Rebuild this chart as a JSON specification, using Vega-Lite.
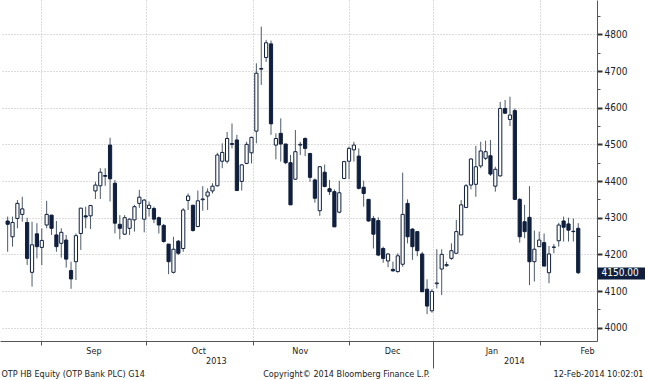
{
  "$schema": "https://vega.github.io/schema/vega-lite/v6.json",
  "width": 597,
  "height": 341,
  "autosize": {"type": "none"},
  "padding": {"left": 0, "top": 0, "right": 48, "bottom": 39},
  "background": "white",
  "config": {
    "view": {"stroke": null},
    "axis": {
      "labelFont": "DejaVu Sans Condensed",
      "titleFont": "DejaVu Sans Condensed",
      "labelColor": "#222222",
      "titleColor": "#222222",
      "titleFontWeight": "normal",
      "titleFontSize": 9,
      "labelFontSize": 9
    }
  },
  "data": {
    "values": [
      {"i":0,"o":4291,"h":4303,"l":4207,"c":4282},
      {"i":1,"o":4248,"h":4303,"l":4221,"c":4287},
      {"i":2,"o":4298,"h":4348,"l":4271,"c":4339},
      {"i":3,"o":4309,"h":4357,"l":4289,"c":4324},
      {"i":4,"o":4287,"h":4300,"l":4171,"c":4189},
      {"i":5,"o":4151,"h":4289,"l":4112,"c":4226},
      {"i":6,"o":4256,"h":4285,"l":4189,"c":4221},
      {"i":7,"o":4219,"h":4271,"l":4171,"c":4238},
      {"i":8,"o":4280,"h":4346,"l":4271,"c":4309},
      {"i":9,"o":4307,"h":4307,"l":4253,"c":4271},
      {"i":10,"o":4253,"h":4291,"l":4207,"c":4221},
      {"i":11,"o":4230,"h":4271,"l":4191,"c":4260},
      {"i":12,"o":4239,"h":4253,"l":4164,"c":4187},
      {"i":13,"o":4156,"h":4180,"l":4106,"c":4133},
      {"i":14,"o":4180,"h":4257,"l":4130,"c":4251},
      {"i":15,"o":4257,"h":4327,"l":4212,"c":4326},
      {"i":16,"o":4305,"h":4330,"l":4271,"c":4302},
      {"i":17,"o":4305,"h":4335,"l":4269,"c":4333},
      {"i":18,"o":4373,"h":4398,"l":4351,"c":4389},
      {"i":19,"o":4387,"h":4435,"l":4351,"c":4424},
      {"i":20,"o":4415,"h":4435,"l":4387,"c":4413},
      {"i":21,"o":4498,"h":4518,"l":4344,"c":4406},
      {"i":22,"o":4394,"h":4403,"l":4257,"c":4285},
      {"i":23,"o":4282,"h":4307,"l":4241,"c":4271},
      {"i":24,"o":4255,"h":4307,"l":4253,"c":4300},
      {"i":25,"o":4271,"h":4298,"l":4253,"c":4296},
      {"i":26,"o":4294,"h":4335,"l":4262,"c":4330},
      {"i":27,"o":4339,"h":4376,"l":4327,"c":4356},
      {"i":28,"o":4296,"h":4351,"l":4260,"c":4348},
      {"i":29,"o":4325,"h":4344,"l":4303,"c":4334},
      {"i":30,"o":4325,"h":4330,"l":4285,"c":4296},
      {"i":31,"o":4300,"h":4303,"l":4257,"c":4280},
      {"i":32,"o":4279,"h":4283,"l":4232,"c":4235},
      {"i":33,"o":4228,"h":4228,"l":4146,"c":4180},
      {"i":34,"o":4151,"h":4248,"l":4148,"c":4214},
      {"i":35,"o":4236,"h":4239,"l":4198,"c":4203},
      {"i":36,"o":4216,"h":4326,"l":4207,"c":4321},
      {"i":37,"o":4347,"h":4366,"l":4321,"c":4359},
      {"i":38,"o":4334,"h":4335,"l":4262,"c":4265},
      {"i":39,"o":4276,"h":4374,"l":4274,"c":4346},
      {"i":40,"o":4349,"h":4386,"l":4319,"c":4351},
      {"i":41,"o":4359,"h":4380,"l":4321,"c":4370},
      {"i":42,"o":4373,"h":4394,"l":4366,"c":4386},
      {"i":43,"o":4387,"h":4477,"l":4385,"c":4471},
      {"i":44,"o":4454,"h":4503,"l":4435,"c":4478},
      {"i":45,"o":4454,"h":4534,"l":4448,"c":4516},
      {"i":46,"o":4502,"h":4557,"l":4489,"c":4500},
      {"i":47,"o":4512,"h":4526,"l":4374,"c":4374},
      {"i":48,"o":4399,"h":4446,"l":4374,"c":4444},
      {"i":49,"o":4448,"h":4507,"l":4446,"c":4500},
      {"i":50,"o":4477,"h":4521,"l":4448,"c":4519},
      {"i":51,"o":4536,"h":4721,"l":4503,"c":4694},
      {"i":52,"o":4705,"h":4821,"l":4662,"c":4707},
      {"i":53,"o":4737,"h":4785,"l":4725,"c":4777},
      {"i":54,"o":4774,"h":4783,"l":4526,"c":4556},
      {"i":55,"o":4498,"h":4530,"l":4459,"c":4516},
      {"i":56,"o":4530,"h":4571,"l":4453,"c":4501},
      {"i":57,"o":4501,"h":4501,"l":4446,"c":4450},
      {"i":58,"o":4450,"h":4471,"l":4335,"c":4335},
      {"i":59,"o":4405,"h":4539,"l":4403,"c":4480},
      {"i":60,"o":4498,"h":4507,"l":4471,"c":4500},
      {"i":61,"o":4516,"h":4519,"l":4468,"c":4489},
      {"i":62,"o":4475,"h":4477,"l":4398,"c":4410},
      {"i":63,"o":4403,"h":4407,"l":4341,"c":4353},
      {"i":64,"o":4319,"h":4441,"l":4305,"c":4439},
      {"i":65,"o":4424,"h":4445,"l":4383,"c":4385},
      {"i":66,"o":4379,"h":4403,"l":4362,"c":4371},
      {"i":67,"o":4371,"h":4377,"l":4275,"c":4275},
      {"i":68,"o":4315,"h":4401,"l":4312,"c":4368},
      {"i":69,"o":4407,"h":4455,"l":4405,"c":4453},
      {"i":70,"o":4454,"h":4494,"l":4405,"c":4489},
      {"i":71,"o":4485,"h":4507,"l":4453,"c":4498},
      {"i":72,"o":4468,"h":4489,"l":4377,"c":4380},
      {"i":73,"o":4383,"h":4401,"l":4330,"c":4366},
      {"i":74,"o":4350,"h":4350,"l":4289,"c":4291},
      {"i":75,"o":4298,"h":4305,"l":4216,"c":4255},
      {"i":76,"o":4292,"h":4301,"l":4195,"c":4198},
      {"i":77,"o":4216,"h":4221,"l":4177,"c":4189},
      {"i":78,"o":4182,"h":4203,"l":4165,"c":4201},
      {"i":79,"o":4159,"h":4180,"l":4153,"c":4155},
      {"i":80,"o":4153,"h":4203,"l":4150,"c":4196},
      {"i":81,"o":4173,"h":4423,"l":4166,"c":4309},
      {"i":82,"o":4339,"h":4350,"l":4230,"c":4248},
      {"i":83,"o":4269,"h":4271,"l":4185,"c":4221},
      {"i":84,"o":4262,"h":4262,"l":4195,"c":4210},
      {"i":85,"o":4201,"h":4207,"l":4098,"c":4098},
      {"i":86,"o":4105,"h":4132,"l":4037,"c":4059},
      {"i":87,"o":4046,"h":4105,"l":4041,"c":4099},
      {"i":88,"o":4120,"h":4214,"l":4107,"c":4122},
      {"i":89,"o":4160,"h":4214,"l":4089,"c":4200},
      {"i":90,"o":4169,"h":4180,"l":4166,"c":4172},
      {"i":91,"o":4189,"h":4230,"l":4185,"c":4210},
      {"i":92,"o":4203,"h":4294,"l":4203,"c":4262},
      {"i":93,"o":4253,"h":4348,"l":4253,"c":4335},
      {"i":94,"o":4328,"h":4392,"l":4326,"c":4387},
      {"i":95,"o":4389,"h":4462,"l":4377,"c":4460},
      {"i":96,"o":4391,"h":4496,"l":4357,"c":4439},
      {"i":97,"o":4441,"h":4507,"l":4435,"c":4482},
      {"i":98,"o":4462,"h":4510,"l":4457,"c":4480},
      {"i":99,"o":4469,"h":4512,"l":4414,"c":4419},
      {"i":100,"o":4386,"h":4439,"l":4371,"c":4432},
      {"i":101,"o":4414,"h":4616,"l":4412,"c":4598},
      {"i":102,"o":4598,"h":4621,"l":4583,"c":4585},
      {"i":103,"o":4568,"h":4630,"l":4550,"c":4580},
      {"i":104,"o":4592,"h":4598,"l":4348,"c":4350},
      {"i":105,"o":4350,"h":4353,"l":4232,"c":4248},
      {"i":106,"o":4289,"h":4335,"l":4244,"c":4262},
      {"i":107,"o":4301,"h":4386,"l":4116,"c":4180},
      {"i":108,"o":4180,"h":4265,"l":4126,"c":4214},
      {"i":109,"o":4221,"h":4262,"l":4221,"c":4239},
      {"i":110,"o":4232,"h":4257,"l":4168,"c":4168},
      {"i":111,"o":4150,"h":4223,"l":4121,"c":4201},
      {"i":112,"o":4219,"h":4228,"l":4203,"c":4220},
      {"i":113,"o":4237,"h":4286,"l":4221,"c":4280},
      {"i":114,"o":4291,"h":4303,"l":4235,"c":4274},
      {"i":115,"o":4283,"h":4300,"l":4235,"c":4266},
      {"i":116,"o":4263,"h":4298,"l":4235,"c":4262},
      {"i":117,"o":4271,"h":4285,"l":4146,"c":4150}
    ]
  },
  "resolve": {"axis": {"x": "independent", "y": "independent"}},
  "layer": [
    {
      "mark": {"type": "rule", "color": "#4b5a6b", "strokeWidth": 1},
      "encoding": {
        "x": {
          "field": "i", "type": "quantitative",
          "scale": {"domain": [-0.544, 119.82], "nice": false, "zero": false},
          "axis": {
            "orient": "bottom",
            "values": [6.9, 28.3, 50.3, 70.0, 87.2, 109.1],
            "grid": true, "gridColor": "#b8b8b8", "gridDash": [1, 2], "gridWidth": 1,
            "ticks": true, "tickSize": 4, "tickColor": "#555555",
            "labels": false,
            "domain": true, "domainColor": "#555555",
            "title": "OTP HB Equity (OTP Bank PLC) G14",
            "titleX": 1, "titleY": 32, "titleAlign": "left", "titleAnchor": "start", "titleBaseline": "middle"
          }
        },
        "y": {
          "field": "l", "type": "quantitative",
          "scale": {"domain": [3963.7, 4893.7], "nice": false, "zero": false},
          "axis": {
            "orient": "right",
            "values": [4000, 4100, 4200, 4300, 4400, 4500, 4600, 4700, 4800],
            "format": "d",
            "grid": true, "gridColor": "#b8b8b8", "gridDash": [1, 2], "gridWidth": 1,
            "ticks": true, "tickSize": 5, "tickWidth": 2, "tickColor": "#333333",
            "labelFontSize": 10, "labelPadding": 2,
            "domain": true, "domainColor": "#555555", "domainWidth": 1,
            "title": null
          }
        },
        "y2": {"field": "h"}
      }
    },
    {
      "transform": [{"filter": "datum.c >= datum.o"}],
      "mark": {"type": "bar", "size": 3.2, "fill": "white", "stroke": "#0f1f3d", "strokeWidth": 1},
      "encoding": {
        "x": {
          "field": "i", "type": "quantitative",
          "scale": {"domain": [-0.544, 119.82], "nice": false, "zero": false},
          "axis": {
            "orient": "bottom",
            "values": [17.6, 39.1, 59.9, 78.85, 99.2, 118.8],
            "labelExpr": "datum.value < 25 ? 'Sep' : datum.value < 50 ? 'Oct' : datum.value < 70 ? 'Nov' : datum.value < 90 ? 'Dec' : datum.value < 110 ? 'Jan' : 'Feb'",
            "ticks": false, "domain": false, "grid": false,
            "labelPadding": 5, "labelFlush": false, "labelOverlap": false,
            "title": "12-Feb-2014 10:02:01",
            "titleX": 643, "titleY": 32, "titleAlign": "right", "titleAnchor": "end", "titleBaseline": "middle"
          }
        },
        "y": {
          "field": "o", "type": "quantitative",
          "scale": {"domain": [3963.7, 4893.7], "nice": false, "zero": false},
          "axis": {
            "orient": "right",
            "values": [4050, 4250, 4350, 4450, 4550, 4650, 4750, 4850],
            "labels": false, "grid": false, "domain": false,
            "ticks": true, "tickSize": 3, "tickColor": "#555555",
            "title": null
          }
        },
        "y2": {"field": "c"}
      }
    },
    {
      "transform": [{"filter": "datum.c < datum.o"}],
      "mark": {"type": "bar", "size": 3.2, "fill": "#0f1f3d", "stroke": "#0f1f3d", "strokeWidth": 1},
      "encoding": {
        "x": {
          "field": "i", "type": "quantitative",
          "scale": {"domain": [-0.544, 119.82], "nice": false, "zero": false},
          "axis": {
            "orient": "bottom",
            "values": [42.7, 87.2, 103.8],
            "labelExpr": "datum.value < 80 ? '2013' : datum.value < 90 ? '' : '2014'",
            "ticks": true, "tickSize": 27, "tickColor": "#555555",
            "tickOpacity": {"condition": {"test": "datum.value > 80 && datum.value < 90", "value": 1}, "value": 0},
            "labelPadding": -12, "labelFlush": false, "labelOverlap": false,
            "domain": false, "grid": false,
            "title": "Copyright© 2014 Bloomberg Finance L.P.",
            "titleX": 346, "titleY": 32, "titleAlign": "center", "titleBaseline": "middle"
          }
        },
        "y": {
          "field": "o", "type": "quantitative",
          "scale": {"domain": [3963.7, 4893.7], "nice": false, "zero": false},
          "axis": {
            "orient": "right",
            "values": [4150],
            "labelExpr": "format(datum.value, '.2f')",
            "ticks": true, "tickSize": 48, "tickWidth": 12, "tickColor": "#0f1f3d",
            "labelColor": "white", "labelFontWeight": "normal", "labelFontSize": 10,
            "labelPadding": -44, "labelAlign": "left",
            "domain": false, "grid": false, "title": null
          }
        },
        "y2": {"field": "c"}
      }
    }
  ]
}
